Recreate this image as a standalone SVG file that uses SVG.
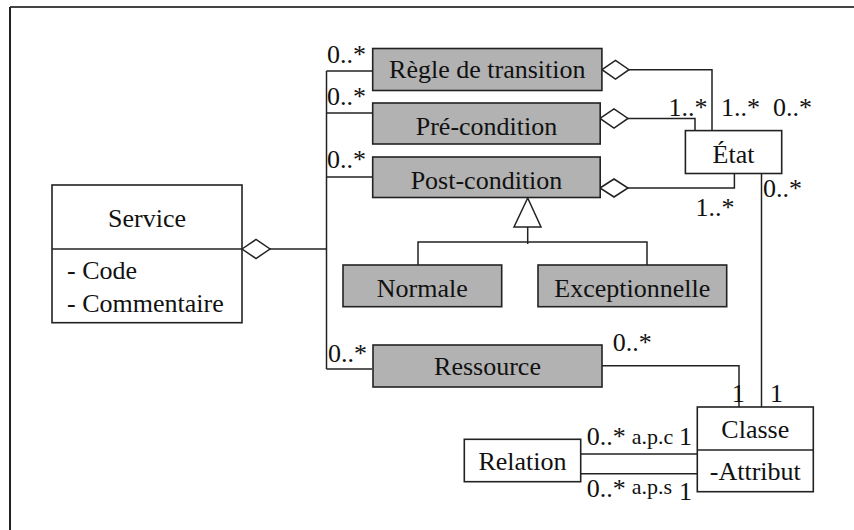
<svg xmlns="http://www.w3.org/2000/svg" width="854" height="530" viewBox="0 0 854 530" font-family="Liberation Serif, DejaVu Serif, serif" font-size="26">
  <style>
    .box { fill: #ffffff; stroke: #222; stroke-width: 1.6; }
    .shaded { fill: #b2b2b2; stroke: #222; stroke-width: 1.6; }
    .ln { fill: none; stroke: #222; stroke-width: 1.5; }
    .agg { fill: #ffffff; stroke: #222; stroke-width: 1.5; }
    .c { text-anchor: middle; }
    .small { font-size: 22px; }
  </style>

  <!-- frame -->
  <g id="frame">
    <line x1="10" y1="7" x2="854" y2="7" stroke="#444" stroke-width="2"/>
    <line x1="10" y1="7" x2="10" y2="530" stroke="#222" stroke-width="2"/>
  </g>

  <!-- connectors -->
  <g id="connectors">
    <!-- Service aggregation and bus -->
    <polygon class="agg" points="242,249 256,239.5 270,249 256,258.5"/>
    <line class="ln" x1="270" y1="249" x2="326.5" y2="249"/>
    <line class="ln" x1="326.5" y1="71" x2="326.5" y2="369"/>
    <line class="ln" x1="326.5" y1="71" x2="372" y2="71"/>
    <line class="ln" x1="326.5" y1="113" x2="372" y2="113"/>
    <line class="ln" x1="326.5" y1="177" x2="372" y2="177"/>
    <line class="ln" x1="326.5" y1="369" x2="372" y2="369"/>

    <!-- État aggregations -->
    <polygon class="agg" points="602,69.7 615.5,60.5 629,69.7 615.5,79"/>
    <polyline class="ln" points="629,69.7 712,69.7 712,130.6"/>
    <polygon class="agg" points="600,118.4 614,109 628,118.4 614,128"/>
    <polyline class="ln" points="628,118.4 695,118.4 695,130.6"/>
    <polygon class="agg" points="600,188 614,179 628,188 614,197"/>
    <polyline class="ln" points="628,188 734.4,188 734.4,173.5"/>

    <!-- État to Classe -->
    <line class="ln" x1="761.5" y1="173.5" x2="761.5" y2="407"/>
    <!-- Ressource to Classe -->
    <polyline class="ln" points="602,365.7 739,365.7 739,407"/>
    <!-- Relation to Classe -->
    <line class="ln" x1="581" y1="454" x2="697.5" y2="454"/>
    <line class="ln" x1="581" y1="473.7" x2="697.5" y2="473.7"/>

    <!-- generalization of Post-condition -->
    <polygon class="agg" points="527.7,198 514,227 541,227"/>
    <line class="ln" x1="527.7" y1="227" x2="527.7" y2="244"/>
    <polyline class="ln" points="418,265 418,242 647,242 647,265"/>
  </g>

  <!-- multiplicities -->
  <g id="labels" fill="#111">
    <text x="327" y="63">0..*</text>
    <text x="327" y="105">0..*</text>
    <text x="327" y="168">0..*</text>
    <text x="328" y="362">0..*</text>
    <text x="668.5" y="116">1..*</text>
    <text x="721" y="116">1..*</text>
    <text x="773" y="116">0..*</text>
    <text x="763" y="197">0..*</text>
    <text x="695.5" y="216">1..*</text>
    <text x="612.7" y="351">0..*</text>
    <text x="731.7" y="401.7">1</text>
    <text x="770" y="401.7">1</text>
    <text x="586.7" y="445">0..*</text>
    <text class="small" x="631.7" y="444">a.p.c</text>
    <text x="679" y="445">1</text>
    <text x="586.7" y="496.7">0..*</text>
    <text class="small" x="631.7" y="494">a.p.s</text>
    <text x="679" y="500">1</text>
  </g>

  <!-- nodes -->
  <g id="service" fill="#111">
    <rect class="box" x="52" y="185" width="190" height="137.7"/>
    <line class="ln" x1="52" y1="249" x2="242" y2="249"/>
    <text class="c" x="147" y="227">Service</text>
    <text x="67" y="279">- Code</text>
    <text x="67" y="312">- Commentaire</text>
  </g>

  <g id="regle-transition" fill="#111">
    <rect class="shaded" x="372.7" y="48.5" width="229.2" height="42"/>
    <text class="c" x="487.3" y="78">Règle de transition</text>
  </g>

  <g id="pre-condition" fill="#111">
    <rect class="shaded" x="372.7" y="103" width="227.5" height="41"/>
    <text class="c" x="486.5" y="135">Pré-condition</text>
  </g>

  <g id="post-condition" fill="#111">
    <rect class="shaded" x="372.7" y="157" width="227.5" height="40.5"/>
    <text class="c" x="486.5" y="189">Post-condition</text>
  </g>

  <g id="normale" fill="#111">
    <rect class="shaded" x="343" y="265" width="158.7" height="41.7"/>
    <text class="c" x="422.3" y="297">Normale</text>
  </g>

  <g id="exceptionnelle" fill="#111">
    <rect class="shaded" x="538" y="265" width="188.7" height="41.7"/>
    <text class="c" x="632.3" y="297">Exceptionnelle</text>
  </g>

  <g id="ressource" fill="#111">
    <rect class="shaded" x="373" y="345" width="229" height="42"/>
    <text class="c" x="487.5" y="375">Ressource</text>
  </g>

  <g id="etat" fill="#111">
    <rect class="box" x="685.4" y="130.6" width="96.3" height="42.9"/>
    <text class="c" x="733.5" y="163.4">État</text>
  </g>

  <g id="classe" fill="#111">
    <rect class="box" x="697.3" y="407" width="116" height="84.7"/>
    <line class="ln" x1="697.3" y1="450" x2="813.3" y2="450"/>
    <text class="c" x="755.3" y="438">Classe</text>
    <text class="c" x="755.3" y="480">-Attribut</text>
  </g>

  <g id="relation" fill="#111">
    <rect class="box" x="464.3" y="439.3" width="116.4" height="42.4"/>
    <text class="c" x="522.5" y="470">Relation</text>
  </g>
</svg>
